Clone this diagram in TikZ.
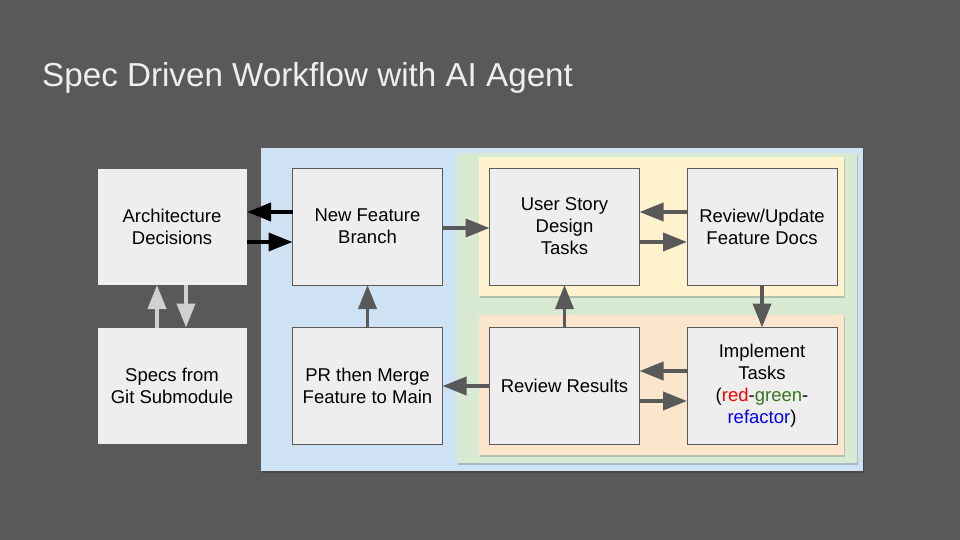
\documentclass[tikz,border=0pt]{standalone}
\usepackage{fontspec}
\setmainfont{Liberation Sans}
\usetikzlibrary{arrows.meta,shadows}
\definecolor{bgc}{HTML}{595959}
\definecolor{boxc}{HTML}{EEEEEE}
\definecolor{bluep}{HTML}{CFE2F3}
\definecolor{greenp}{HTML}{D9EAD3}
\definecolor{yellowp}{HTML}{FFF2CC}
\definecolor{orangep}{HTML}{FCE5CD}
\definecolor{titlec}{HTML}{EEEEEE}
\definecolor{arrc}{HTML}{595959}
\definecolor{lightarr}{HTML}{D0D0D0}
\definecolor{gtxt}{HTML}{38761D}
\tikzset{
  x=1pt, y=-1pt,
  panel/.style={draw=none, inner sep=0pt, outer sep=0pt, anchor=north west,
    drop shadow={shadow xshift=1pt, shadow yshift=-2pt, opacity=0.18, fill=black}},
  procbox/.style={draw=arrc, line width=0.9pt, fill=boxc, minimum width=150pt, minimum height=117pt,
    inner sep=0pt, outer sep=0pt, align=center, font=\fontsize{18.5}{22}\selectfont, text=black},
  arr/.style={draw=arrc, line width=3.8pt, -{Triangle[length=24pt,width=18pt]}},
  blackarr/.style={draw=black, line width=3.8pt, -{Triangle[length=24pt,width=18pt]}},
  lightarr/.style={draw=lightarr, line width=4pt, -{Triangle[length=24pt,width=18pt]}},
}
\begin{document}
\begin{tikzpicture}
\useasboundingbox (0,0) rectangle (960,540);
\fill[bgc] (0,0) rectangle (960,540);
\node[anchor=base west, inner sep=0pt, text=titlec, font=\fontsize{33.2}{40}\selectfont] (title) at (42,87) {Spec Driven Workflow with AI Agent};

% panels
\node[panel, fill=bluep, minimum width=602pt, minimum height=323pt] (bluepanel) at (261,148) {};
\node[panel, fill=greenp, minimum width=400pt, minimum height=310pt] (greenpanel) at (457,153) {};
\node[panel, fill=yellowp, minimum width=365pt, minimum height=139pt] (yellowpanel) at (479,157) {};
\node[panel, fill=orangep, minimum width=365pt, minimum height=140pt] (orangepanel) at (479,315) {};

% boxes
\node[procbox] (arch) at (172,226.5) {Architecture\\Decisions};
\node[procbox] (specs) at (172,386) {Specs from\\Git Submodule};
\node[procbox] (nf) at (367.5,226.5) {New Feature\\Branch};
\node[procbox] (pr) at (367.5,386) {PR then Merge\\Feature to Main};
\node[procbox] (us) at (564.5,226.5) {User Story\\Design\\Tasks};
\node[procbox] (ru) at (762,226.5) {Review/Update\\Feature Docs};
\node[procbox] (rr) at (564.5,386) {Review Results};
\node[procbox] (it) at (762,386) {Implement\\Tasks\\(\textcolor{red}{red}-\textcolor{gtxt}{green}-\\\textcolor{blue}{refactor})};

% black arrows
\draw[blackarr] (nf.west |- 0,212) -- (arch.east |- 0,212);
\draw[blackarr] (arch.east |- 0,242) -- (nf.west |- 0,242);
% light arrows
\draw[lightarr] (specs.north -| 157,0) -- (arch.south -| 157,0);
\draw[lightarr] (arch.south -| 186,0) -- (specs.north -| 186,0);
% grey arrows
\draw[arr] (nf.east |- 0,228) -- (us.west |- 0,228);
\draw[arr] (ru.west |- 0,212) -- (us.east |- 0,212);
\draw[arr] (us.east |- 0,242) -- (ru.west |- 0,242);
\draw[arr] (ru.south) -- (it.north);
\draw[arr] (it.west |- 0,371) -- (rr.east |- 0,371);
\draw[arr] (rr.east |- 0,401) -- (it.west |- 0,401);
\draw[arr] (rr.north) -- (us.south);
\draw[arr] (rr.west) -- (pr.east);
\draw[arr] (pr.north) -- (nf.south);
\end{tikzpicture}
\end{document}
